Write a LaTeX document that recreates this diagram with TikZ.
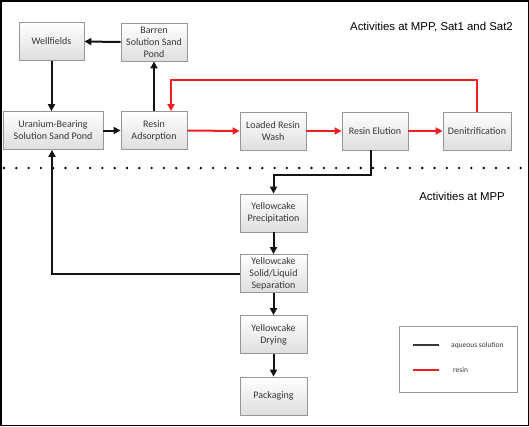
\documentclass[tikz,border=0pt]{standalone}
\usepackage{fontspec}
\setmainfont{Carlito}
\newfontfamily\hdfont{Liberation Sans}
\usetikzlibrary{arrows.meta,calc}
\definecolor{boxline}{RGB}{150,150,150}
\definecolor{boxbot}{RGB}{222,222,222}
\definecolor{txt}{RGB}{55,55,55}
\definecolor{flowred}{RGB}{235,30,35}
\definecolor{flowblk}{RGB}{20,20,20}
\tikzset{
  procbox/.style={draw=boxline, line width=0.8pt, top color=white, bottom color=boxbot,
    minimum height=38pt, minimum width=66pt, align=center, inner sep=1pt,
    font=\fontsize{10}{12}\selectfont, text=txt},
  blkflow/.style={draw=flowblk, line width=2pt, -{Triangle[length=7pt,width=7pt]}},
  redflow/.style={draw=flowred, line width=2pt, -{Triangle[length=7pt,width=7pt]}},
  hdtext/.style={font=\hdfont\fontsize{11.4}{13}\selectfont, text=black, inner sep=0pt}
}
\begin{document}
\begin{tikzpicture}[x=1pt,y=-1pt]
\useasboundingbox (0,0) rectangle (529,426);
\draw[black, line width=1.5pt] (0.75,0.75) rectangle (528.25,425.25);

\node[procbox, minimum width=65pt] (well) at (51.5,41.5) {Wellfields};
\node[procbox] (barren) at (154,42) {Barren\\Solution Sand\\Pond};
\node[procbox, minimum width=100pt] (ubsp) at (53,130.5) {Uranium-Bearing\\Solution Sand Pond};
\node[procbox] (rads) at (154,130.5) {Resin\\Adsorption};
\node[procbox] (lrw) at (273,131) {Loaded Resin\\Wash};
\node[procbox] (relu) at (375,131) {Resin Elution};
\node[procbox, minimum width=68pt] (denit) at (477,131) {Denitrification};
\node[procbox, minimum width=67pt] (yprec) at (273.5,213) {Yellowcake\\Precipitation};
\node[procbox, minimum width=67pt] (ysl) at (273.5,273.5) {Yellowcake\\Solid/Liquid\\Separation};
\node[procbox, minimum width=67pt] (ydry) at (273.5,334.5) {Yellowcake\\Drying};
\node[procbox, minimum width=67pt] (pack) at (273.5,396) {Packaging};

\node[hdtext, anchor=east] (hd1) at (513,27) {Activities at MPP, Sat1 and Sat2};
\node[hdtext, anchor=east] (hd2) at (505,196) {Activities at MPP};

% dotted separator
\coordinate (sepL) at (4,168);
\coordinate (sepR) at (529,168);
\draw[black, line width=2.6pt, line cap=round, dash pattern=on 0pt off 12.3pt] (sepL) -- (sepR);

% black flows
\draw[blkflow] (barren.west) -- (well.east);
\draw[blkflow] (well.south) -- (ubsp.north -| well.south);
\draw[blkflow] (ubsp.east) -- (rads.west);
\draw[blkflow] (rads.north) -- (barren.south);
\coordinate (eluA) at ($(relu.south)+(-4,0)$);
\coordinate (eluB) at ($(eluA)+(0,25)$);
\draw[blkflow] (eluA) -- (eluB) -| (yprec.north);
\draw[blkflow] (yprec.south) -- (ysl.north);
\draw[blkflow] (ysl.south) -- (ydry.north);
\draw[blkflow] (ydry.south) -- (pack.north);
\coordinate (retX) at (52,0);
\draw[blkflow] (ysl.west) -| (retX |- ubsp.south);

% red flows
\draw[redflow] (rads.east) -- (lrw.west);
\draw[redflow] (lrw.east) -- (relu.west);
\draw[redflow] (relu.east) -- (denit.west);
\coordinate (loopTop) at (477,80);
\coordinate (radsIn) at ($(rads.north)+(17,0)$);
\draw[redflow] (denit.north) -- (loopTop) -| (radsIn);

% legend
\node[draw=boxline, line width=0.8pt, fill=white, minimum width=118pt, minimum height=66pt, inner sep=0pt] (legend) at (458,359) {};
\coordinate (lgA1) at (413,345);
\coordinate (lgA2) at (439,345);
\coordinate (lgB1) at (413,370);
\coordinate (lgB2) at (439,370);
\draw[draw=txt, line width=2pt] (lgA1) -- (lgA2);
\draw[draw=flowred, line width=2pt] (lgB1) -- (lgB2);
\node[anchor=west, inner sep=0pt, font=\fontsize{7.5}{8}\selectfont, text=txt] (lgAt) at (451,345) {aqueous solution};
\node[anchor=west, inner sep=0pt, font=\fontsize{7.5}{8}\selectfont, text=txt] (lgBt) at (453,370) {resin};
\end{tikzpicture}
\end{document}
